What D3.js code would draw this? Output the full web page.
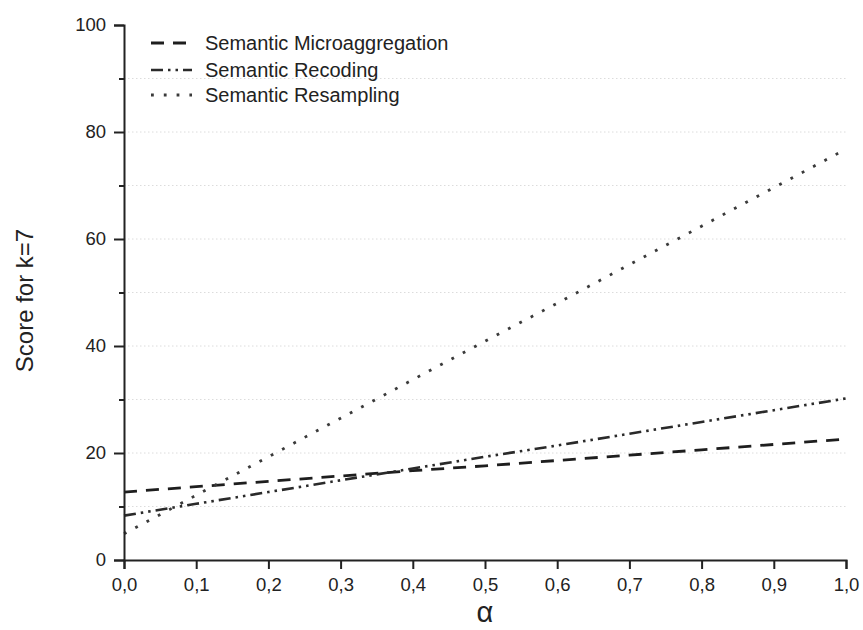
<!DOCTYPE html>
<html>
<head>
<meta charset="utf-8">
<script src="https://cdn.jsdelivr.net/npm/d3@7/dist/d3.min.js"></script>
<style>
  html, body { margin: 0; padding: 0; background: #fff; }
  svg { display: block; font-family: "Liberation Sans", Arial, sans-serif; }
</style>
</head>
<body>
<svg id="chart" width="863" height="630"></svg>
<script>
// α values and scores for k=7
const alphas = [0.0, 0.1, 0.2, 0.3, 0.4, 0.5, 0.6, 0.7, 0.8, 0.9, 1.0];
const microaggregation = [12.7, 13.7, 14.7, 15.7, 16.7, 17.6, 18.6, 19.6, 20.6, 21.6, 22.6];
const recoding = [8.3, 10.5, 12.7, 14.9, 17.1, 19.3, 21.4, 23.6, 25.8, 28.0, 30.2];
const resampling = [4.9, 12.1, 19.3, 26.5, 33.7, 40.9, 48.0, 55.2, 62.4, 69.6, 76.8];

const seriesNames = ["Semantic Microaggregation", "Semantic Recoding", "Semantic Resampling"];
const xTicks = [0.0, 0.1, 0.2, 0.3, 0.4, 0.5, 0.6, 0.7, 0.8, 0.9, 1.0];
const xTickLabels = ["0,0", "0,1", "0,2", "0,3", "0,4", "0,5", "0,6", "0,7", "0,8", "0,9", "1,0"];
const yMajorTicks = [0, 20, 40, 60, 80, 100];
const yMinorTicks = [10, 30, 50, 70, 90];
const gridValues = [10, 20, 30, 40, 50, 60, 70, 80, 90];

const series = [
  { name: seriesNames[0], values: microaggregation, dash: "13,9", color: "#1e1e1e", width: 2.8 },
  { name: seriesNames[1], values: recoding, dash: "12,5,2.5,5,2.5,5", color: "#2a2a2a", width: 2.6 },
  { name: seriesNames[2], values: resampling, dash: "2.8,10", color: "#3a3a3a", width: 2.8 }
];

const svg = d3.select("#chart");
const margin = { left: 124, right: 17, top: 25, bottom: 70 };
const W = 863, H = 630;

const x = d3.scaleLinear().domain([0, 1]).range([margin.left, W - margin.right]);
const y = d3.scaleLinear().domain([0, 100]).range([H - margin.bottom, margin.top]);

// faint dotted horizontal grid
svg.append("g").selectAll("line").data(gridValues).join("line")
  .attr("x1", x(0)).attr("x2", x(1))
  .attr("y1", d => y(d)).attr("y2", d => y(d))
  .attr("stroke", "#dcdcdc").attr("stroke-width", 1)
  .attr("stroke-dasharray", "1.5,2.5");

// series lines
const line = d3.line().x((d, i) => x(alphas[i])).y(d => y(d));
svg.append("g").selectAll("path").data(series).join("path")
  .attr("d", d => line(d.values))
  .attr("fill", "none")
  .attr("stroke", d => d.color)
  .attr("stroke-width", d => d.width)
  .attr("stroke-dasharray", d => d.dash);

// x axis
const xAxis = d3.axisBottom(x).tickValues(xTicks)
  .tickFormat((d, i) => xTickLabels[i]).tickSizeOuter(0).tickSize(9).tickPadding(9);
const gx = svg.append("g").attr("transform", `translate(0,${y(0)})`).call(xAxis);
gx.select(".domain").attr("stroke", "#222").attr("stroke-width", 2);
gx.selectAll(".tick line").attr("stroke", "#222").attr("stroke-width", 2);
gx.selectAll(".tick text").attr("fill", "#222").attr("font-size", 18.5)
  .attr("font-family", "Liberation Sans, Arial, sans-serif");

// y axis, major ticks
const yAxis = d3.axisLeft(y).tickValues(yMajorTicks).tickSizeOuter(0).tickSize(10).tickPadding(8);
const gy = svg.append("g").attr("transform", `translate(${x(0)},0)`).call(yAxis);
gy.select(".domain").attr("stroke", "#222").attr("stroke-width", 2);
gy.selectAll(".tick line").attr("stroke", "#222").attr("stroke-width", 2);
gy.selectAll(".tick text").attr("fill", "#222").attr("font-size", 18.5)
  .attr("font-family", "Liberation Sans, Arial, sans-serif");

// y axis, minor ticks
const yMinor = d3.axisLeft(y).tickValues(yMinorTicks).tickFormat("").tickSizeOuter(0).tickSize(5);
const gym = svg.append("g").attr("transform", `translate(${x(0)},0)`).call(yMinor);
gym.select(".domain").remove();
gym.selectAll(".tick line").attr("stroke", "#222").attr("stroke-width", 2);

// axis titles
svg.append("text")
  .attr("transform", `translate(33,${(y(0) + y(100)) / 2 + 8}) rotate(-90)`)
  .attr("text-anchor", "middle")
  .attr("font-size", 24).attr("fill", "#222")
  .text("Score for k=7");

svg.append("text")
  .attr("x", (x(0) + x(1)) / 2).attr("y", 622)
  .attr("text-anchor", "middle")
  .attr("font-size", 29).attr("fill", "#222")
  .text("α");

// legend
const legendY = [43, 70, 95];
const lg = svg.append("g").selectAll("g").data(series).join("g")
  .attr("transform", (d, i) => `translate(0,${legendY[i]})`);
lg.append("line")
  .attr("x1", 151).attr("x2", 192).attr("y1", 0).attr("y2", 0)
  .attr("stroke", d => d.color).attr("stroke-width", d => d.width)
  .attr("stroke-dasharray", d => d.dash);
lg.append("text")
  .attr("x", 205).attr("y", 7)
  .attr("font-size", 20).attr("fill", "#222")
  .text(d => d.name);
</script>
</body>
</html>
